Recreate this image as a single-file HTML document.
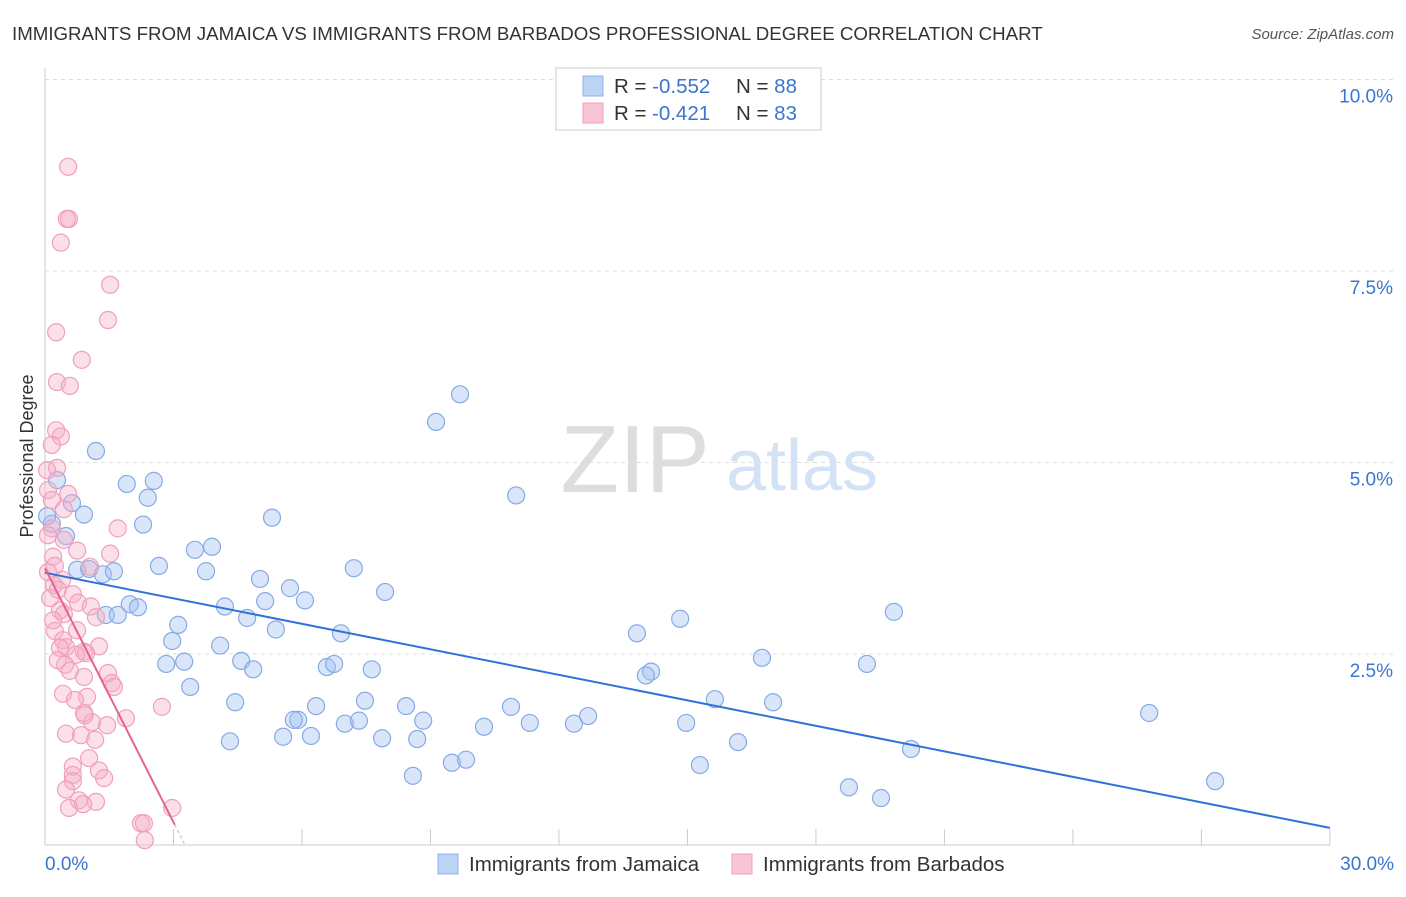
<!DOCTYPE html>
<html><head><meta charset="utf-8"><style>
body{margin:0;background:#fff;font-family:"Liberation Sans",sans-serif}
svg text{font-family:"Liberation Sans",sans-serif}
</style></head><body>
<svg width="1406" height="892" viewBox="0 0 1406 892">
<text x="12" y="40" font-size="18.7" fill="#333">IMMIGRANTS FROM JAMAICA VS IMMIGRANTS FROM BARBADOS PROFESSIONAL DEGREE CORRELATION CHART</text>
<text x="1394" y="39" font-size="15" fill="#555" font-style="italic" text-anchor="end">Source: ZipAtlas.com</text>
<g id="grid"></g>
<text x="635" y="492" font-size="96" fill="#ddd" font-family="Liberation Serif,serif" text-anchor="middle">ZIP</text>
<text x="802" y="490" font-size="72" fill="#d4e2f5" text-anchor="middle">atlas</text>
<text transform="translate(33,456) rotate(-90)" font-size="18" fill="#333" text-anchor="middle">Professional Degree</text>
<g id="pts"></g>
<g id="lines"></g>
<rect x="556" y="68" width="265" height="62" fill="#fff" stroke="#ccc"/>
<rect x="583" y="76" width="20" height="20" fill="#bcd3f5" stroke="#8fb1e8"/>
<rect x="583" y="103" width="20" height="20" fill="#f8c5d6" stroke="#f0a0bc"/>
<text x="614" y="93" font-size="20.5" fill="#333">R = <tspan fill="#3a75d0">-0.552</tspan><tspan x="736">N = </tspan><tspan fill="#3a75d0">88</tspan></text>
<text x="614" y="120" font-size="20.5" fill="#333">R = <tspan x="652" fill="#3a75d0">-0.421</tspan><tspan x="736">N = </tspan><tspan fill="#3a75d0">83</tspan></text>
<rect x="438" y="854" width="20" height="20" fill="#bcd3f5" stroke="#8fb1e8"/>
<text x="469" y="871" font-size="20.5" fill="#333">Immigrants from Jamaica</text>
<rect x="732" y="854" width="20" height="20" fill="#f8c5d6" stroke="#f0a0bc"/>
<text x="763" y="871" font-size="20.5" fill="#333">Immigrants from Barbados</text>
</svg>
<script>
const yTicks=[2.5,5.0,7.5,10.0];
const yTickLabels=["2.5%","5.0%","7.5%","10.0%"];
const xEndLabels=["0.0%","30.0%"];
const xTickVals=[0,3,6,9,12,15,18,21,24,27,30];
const blueX=[9.69,9.13,11.00,1.19,1.91,2.54,2.40,0.28,0.63,0.91,2.29,5.30,0.49,3.50,3.90,2.66,3.76,5.02,7.21,7.94,5.72,6.07,5.14,4.20,4.72,5.39,6.91,1.98,2.17,1.42,1.70,0.75,1.35,1.61,1.03,3.11,2.97,4.09,2.83,3.25,4.58,4.86,6.58,6.75,7.63,3.39,4.44,7.47,6.33,8.43,10.88,5.91,5.81,7.00,7.33,8.83,10.25,11.32,12.35,12.68,4.32,5.56,6.21,7.87,8.69,8.59,9.50,9.83,13.82,14.83,19.82,16.74,19.19,14.15,14.03,15.64,17.00,14.97,16.18,15.29,20.22,18.77,19.52,25.78,27.32,0.16,0.05];
const blueY=[5.89,5.53,4.57,5.15,4.72,4.76,4.54,4.77,4.47,4.32,4.19,4.28,4.04,3.86,3.90,3.65,3.58,3.48,3.62,3.31,3.36,3.20,3.19,3.12,2.97,2.82,2.77,3.15,3.11,3.01,3.01,3.60,3.54,3.58,3.61,2.88,2.67,2.61,2.37,2.40,2.41,2.30,2.33,2.37,2.30,2.07,1.87,1.89,1.82,1.82,1.81,1.64,1.64,1.59,1.63,1.63,1.55,1.60,1.59,1.69,1.36,1.42,1.43,1.40,1.39,0.91,1.08,1.12,2.77,2.96,3.05,2.45,2.37,2.27,2.22,1.91,1.87,1.60,1.35,1.05,1.26,0.76,0.62,1.73,0.84,4.20,4.30];
const pinkX=[0.54,0.56,0.51,0.37,1.52,1.47,0.26,0.86,0.28,0.58,0.26,0.37,0.16,0.28,0.05,0.07,0.54,0.44,1.70,0.16,0.07,0.44,0.75,1.52,0.19,0.23,1.05,0.07,0.40,0.21,0.30,0.65,0.12,0.77,1.07,0.35,0.44,1.19,0.23,0.75,0.42,0.49,0.35,1.26,0.91,0.96,0.72,0.47,0.58,1.47,0.91,1.56,1.61,0.42,0.98,2.73,1.89,0.93,1.10,0.91,1.45,0.49,0.84,1.03,0.65,0.65,1.26,1.38,0.65,0.79,1.19,0.56,0.89,2.24,2.31,2.97,2.33,0.19,0.30,0.16,0.70,1.17,0.49];
const pinkY=[8.86,8.18,8.18,7.87,7.32,6.86,6.70,6.34,6.05,6.00,5.42,5.34,5.23,4.93,4.90,4.64,4.59,4.39,4.14,4.14,4.05,3.99,3.85,3.81,3.77,3.65,3.64,3.57,3.47,3.40,3.34,3.28,3.23,3.17,3.12,3.07,3.02,2.98,2.80,2.81,2.68,2.59,2.58,2.60,2.53,2.51,2.49,2.36,2.28,2.25,2.20,2.12,2.07,1.98,1.94,1.81,1.66,1.70,1.61,1.73,1.57,1.46,1.44,1.14,1.03,0.92,0.98,0.88,0.84,0.59,0.57,0.49,0.54,0.29,0.29,0.49,0.07,2.94,2.42,4.51,1.90,1.38,0.73];
const blueTrend=[[0,3.56],[30,0.23]];
const pinkTrend=[[0,3.62],[3.03,0.27]];
const NS="http://www.w3.org/2000/svg";
const X=v=>45+v*42.83, Y=v=>845.5-v*76.6;
function mk(t,a,p){const e=document.createElementNS(NS,t);for(const k in a)e.setAttribute(k,a[k]);p.appendChild(e);return e;}
const g=document.getElementById('grid');
yTicks.forEach((t,i)=>{
 const l=mk('line',{x1:45,x2:1394,y1:Y(t),y2:Y(t),stroke:'#ddd','stroke-dasharray':'4,4'},g);
 
 
 const tx=mk('text',{x:1393,y:Y(t)+23,'font-size':19,fill:'#3a75d0','text-anchor':'end'},g);tx.textContent=yTickLabels[i];
 
 
});
const ax=mk('line',{x1:45,x2:1330,y1:845,y2:845,stroke:'#ccc'},g);


const ay=mk('line',{x1:45,x2:45,y1:68,y2:845,stroke:'#ccc'},g);


xTickVals.forEach(v=>{const t=mk('line',{x1:X(v),x2:X(v),y1:829,y2:845,stroke:'#ccc'},g);
 
 });
[[0,'start',45],[30,'end',1394]].forEach((d,i)=>{const t=mk('text',{x:d[2],y:870,'font-size':19,fill:'#3a75d0','text-anchor':d[1]},g);t.textContent=xEndLabels[i];
 
 });
const p=document.getElementById('pts');
blueX.forEach((v,i)=>{const c=mk('circle',{cx:X(v),cy:Y(blueY[i]),r:8.5,fill:'rgba(160,192,240,0.4)',stroke:'#86aae6','stroke-width':1.2},p);
 
 });
pinkX.forEach((v,i)=>{const c=mk('circle',{cx:X(v),cy:Y(pinkY[i]),r:8.5,fill:'rgba(246,176,200,0.4)',stroke:'#f0a0bc','stroke-width':1.2},p);
 
 });
const L=document.getElementById('lines');
const bl=mk('line',{x1:X(blueTrend[0][0]),y1:Y(blueTrend[0][1]),x2:X(blueTrend[1][0]),y2:Y(blueTrend[1][1]),stroke:'#2f72d6','stroke-width':2},L);


const pl=mk('line',{x1:X(pinkTrend[0][0]),y1:Y(pinkTrend[0][1]),x2:X(pinkTrend[1][0]),y2:Y(pinkTrend[1][1]),stroke:'#e8628e','stroke-width':2},L);


const slope=(pinkTrend[1][1]-pinkTrend[0][1])/(pinkTrend[1][0]-pinkTrend[0][0]);
const xe=pinkTrend[1][0]+0.25;
const pd=mk('line',{x1:X(pinkTrend[1][0]),y1:Y(pinkTrend[1][1]),x2:X(xe),y2:Y(pinkTrend[0][1]+slope*xe),stroke:'#ccc','stroke-width':1.5,'stroke-dasharray':'3,3'},L);


</script>
</body></html>
